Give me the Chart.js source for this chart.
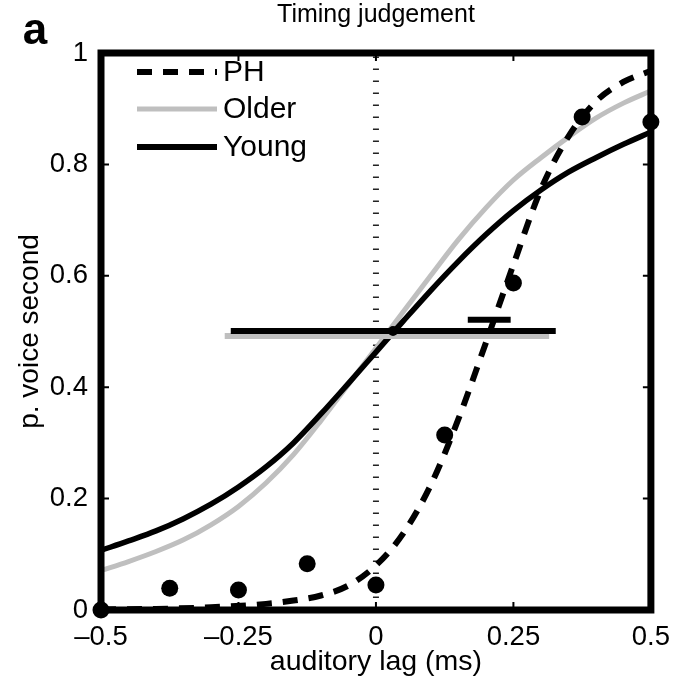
<!DOCTYPE html>
<html><head><meta charset="utf-8">
<script src="https://cdn.jsdelivr.net/npm/chart.js@4.4.0/dist/chart.umd.min.js"></script>
<style>html,body{margin:0;padding:0;background:#fff;}#wrap{width:681px;height:686px;position:relative;}</style>
</head><body><div id="wrap"><canvas id="c" width="681" height="686" style="width:681px;height:686px"></canvas></div>
<script>
const FONT = '"Liberation Sans", Arial, Helvetica, sans-serif';
const xTicks = [-0.5, -0.25, 0, 0.25, 0.5];
const yTicks = [0, 0.2, 0.4, 0.6, 0.8, 1];
const seriesNames = ['PH', 'Older', 'Young'];

// PH observed proportions
const dataX = [-0.5, -0.375, -0.25, -0.125, 0, 0.125, 0.25, 0.375, 0.5];
const dataY = [0, 0.039, 0.036, 0.083, 0.045, 0.314, 0.587, 0.885, 0.876];

// PH fitted curve (dashed)
const phX = [-0.5, -0.4, -0.3, -0.2, -0.15, -0.1, -0.05, 0, 0.05, 0.1, 0.15, 0.2, 0.25, 0.3, 0.35, 0.4, 0.45, 0.5];
const phY = [0.001, 0.002, 0.005, 0.011, 0.017, 0.026, 0.044, 0.08, 0.138, 0.225, 0.343, 0.48, 0.62, 0.755, 0.85, 0.913, 0.948, 0.968];

// Older and Young group curves
const groupX = [-0.5, -0.45, -0.4, -0.35, -0.3, -0.25, -0.2, -0.15, -0.1, -0.05, 0, 0.05, 0.1, 0.15, 0.2, 0.25, 0.3, 0.35, 0.4, 0.45, 0.5];
const olderY = [0.071, 0.087, 0.105, 0.126, 0.153, 0.186, 0.228, 0.279, 0.340, 0.405, 0.470, 0.536, 0.601, 0.665, 0.722, 0.772, 0.812, 0.849, 0.883, 0.910, 0.932];
const youngY = [0.107, 0.124, 0.142, 0.164, 0.190, 0.221, 0.257, 0.300, 0.352, 0.407, 0.463, 0.519, 0.574, 0.626, 0.674, 0.717, 0.754, 0.786, 0.812, 0.836, 0.858];

// PSE intervals (horizontal bars)
const youngCI = [-0.264, 0.327]; const youngCIy = 0.501;
const olderCI = [-0.275, 0.315]; const olderCIy = 0.492;
const phCI = [0.167, 0.245]; const phCIy = 0.521;
const psePoint = [0.031, 0.501];
const refLineX = 0;

const BLACK = '#000000', GREY = '#bfbfbf';
const DASH = [15, 11];

const pts = (xs, ys) => xs.map((x, i) => ({x, y: ys[i]}));

const framePlugin = {
  id: 'frame',
  afterDatasetsDraw(chart) {
    const {ctx, chartArea: a, scales: {x, y}} = chart;
    ctx.save();
    ctx.strokeStyle = BLACK;
    ctx.lineWidth = 2;
    ctx.beginPath();
    xTicks.forEach(v => { const px = x.getPixelForValue(v);
      ctx.moveTo(px, a.bottom); ctx.lineTo(px, a.bottom - 8);
      ctx.moveTo(px, a.top); ctx.lineTo(px, a.top + 8); });
    yTicks.forEach(v => { const py = y.getPixelForValue(v);
      ctx.moveTo(a.left, py); ctx.lineTo(a.left + 8, py);
      ctx.moveTo(a.right, py); ctx.lineTo(a.right - 8, py); });
    ctx.stroke();
    ctx.lineWidth = 7;
    ctx.lineJoin = 'miter';
    ctx.strokeRect(a.left, a.top, a.right - a.left, a.bottom - a.top);
    ctx.restore();
  },
  afterDraw(chart) {
    const {ctx, chartArea: a} = chart;
    ctx.save();
    ctx.fillStyle = BLACK;
    ctx.textAlign = 'center'; ctx.textBaseline = 'alphabetic';
    ctx.font = '25px ' + FONT;
    ctx.fillText('Timing judgement', (a.left + a.right) / 2, 22);
    ctx.font = 'bold 44px ' + FONT;
    ctx.fillText('a', 35, 44);
    const styles = [
      {c: BLACK, w: 6, d: DASH},
      {c: GREY, w: 5, d: []},
      {c: BLACK, w: 6, d: []}
    ];
    const ys = [72, 109, 147];
    ctx.textAlign = 'left'; ctx.textBaseline = 'middle';
    ctx.font = '30px ' + FONT;
    seriesNames.forEach((n, i) => {
      ctx.beginPath();
      ctx.strokeStyle = styles[i].c; ctx.lineWidth = styles[i].w;
      ctx.setLineDash(styles[i].d);
      ctx.moveTo(137, ys[i]); ctx.lineTo(217, ys[i]);
      ctx.stroke();
      ctx.setLineDash([]);
      ctx.fillText(n, 223, ys[i] + 1);
    });
    ctx.restore();
  }
};

const fmt = v => (v < 0 ? '\u2013' + String(Math.abs(v)) : String(v));

new Chart(document.getElementById('c'), {
  type: 'scatter',
  data: {
    datasets: [
      {label: 'PH data', data: pts(dataX, dataY), pointRadius: 8.5, pointHoverRadius: 8.5,
       backgroundColor: BLACK, borderColor: BLACK, borderWidth: 0, showLine: false, clip: false},
      {label: 'PSE', data: [{x: psePoint[0], y: psePoint[1]}], pointRadius: 5, backgroundColor: BLACK, borderWidth: 0, showLine: false},
      {label: 'PH CI', data: [{x: phCI[0], y: phCIy}, {x: phCI[1], y: phCIy}], showLine: true, borderColor: BLACK, borderWidth: 6, pointRadius: 0},
      {label: 'Young CI', data: [{x: youngCI[0], y: youngCIy}, {x: youngCI[1], y: youngCIy}], showLine: true, borderColor: BLACK, borderWidth: 6, pointRadius: 0},
      {label: 'Older CI', data: [{x: olderCI[0], y: olderCIy}, {x: olderCI[1], y: olderCIy}], showLine: true, borderColor: GREY, borderWidth: 6, pointRadius: 0},
      {label: 'PH', data: pts(phX, phY), showLine: true, borderColor: BLACK, borderWidth: 6, borderDash: DASH, pointRadius: 0, cubicInterpolationMode: 'monotone'},
      {label: 'Young', data: pts(groupX, youngY), showLine: true, borderColor: BLACK, borderWidth: 5.5, pointRadius: 0, cubicInterpolationMode: 'monotone'},
      {label: 'Older', data: pts(groupX, olderY), showLine: true, borderColor: GREY, borderWidth: 5, pointRadius: 0, cubicInterpolationMode: 'monotone'},
      {label: 'ref', data: [{x: refLineX, y: 0}, {x: refLineX, y: 1}], showLine: true, borderColor: '#222', borderWidth: 6, borderDash: [1.6, 10.4], pointRadius: 0}
    ]
  },
  options: {
    responsive: false, maintainAspectRatio: false, animation: false, devicePixelRatio: 1,
    layout: {padding: {top: 53, right: 24, bottom: 0, left: 0}},
    plugins: {legend: {display: false}, tooltip: {enabled: false}, title: {display: false}},
    scales: {
      x: {type: 'linear', min: -0.5, max: 0.5,
        afterBuildTicks: s => { s.ticks = xTicks.map(v => ({value: v})); },
        afterFit: s => { s.height = 76; },
        grid: {display: false, drawTicks: false}, border: {display: false},
        ticks: {color: BLACK, font: {family: FONT, size: 27.5}, padding: 11, maxRotation: 0, autoSkip: false, callback: v => fmt(v)},
        title: {display: true, text: 'auditory lag (ms)', color: BLACK, font: {family: FONT, size: 28.5}, padding: {top: 0, bottom: 7}}
      },
      y: {type: 'linear', min: 0, max: 1,
        afterBuildTicks: s => { s.ticks = yTicks.map(v => ({value: v})); },
        afterFit: s => { s.width = 101; },
        grid: {display: false, drawTicks: false}, border: {display: false},
        ticks: {color: BLACK, font: {family: FONT, size: 27.5}, padding: 13, autoSkip: false, callback: v => fmt(v)},
        title: {display: true, text: 'p. voice second', color: BLACK, font: {family: FONT, size: 28}, padding: {top: 13, bottom: 0}}
      }
    }
  },
  plugins: [framePlugin]
});
</script></body></html>
